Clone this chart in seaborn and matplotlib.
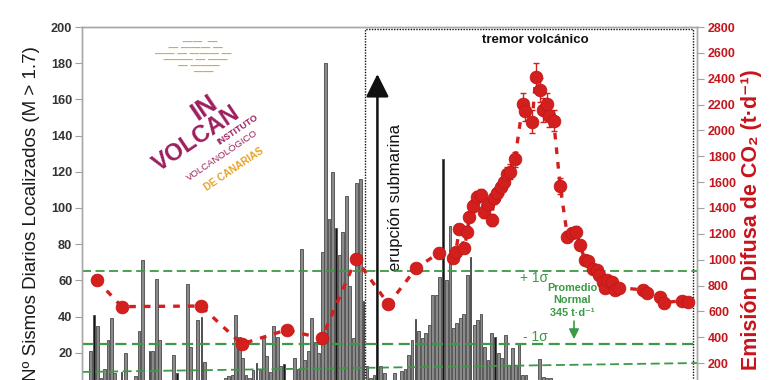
import numpy as np
import pandas as pd
import matplotlib
matplotlib.use("Agg")
import matplotlib.pyplot as plt
import seaborn as sns

# ---------------- data ----------------
bar_days = [2, 3, 4, 5, 6, 7, 8, 9, 11, 12, 15, 16, 17, 19, 20, 21, 22, 26, 27, 30, 31, 33, 34, 35,
            41, 42, 43, 44, 45, 46, 47, 48, 49, 50, 51, 52, 53, 54, 55, 56, 57, 58, 61, 62, 63, 64,
            65, 66, 67, 68, 69, 70, 71, 72, 73, 74, 75, 76, 77, 78, 79, 80, 81, 82, 83, 84, 86, 87,
            90, 92, 93, 94, 95, 96, 97, 98, 99, 100, 101, 102, 103, 104, 105, 106, 107, 108, 109,
            110, 111, 112, 113, 114, 115, 116, 117, 118, 119, 120, 121, 122, 123, 124, 125, 126,
            127, 128, 132, 133, 134, 135]
bar_counts = [21, 41, 35, 6, 11, 27, 39, 9, 9.5, 20, 7, 32, 71, 21, 21, 60.6, 27, 19, 9, 58, 23, 38, 40, 15,
              6, 7, 7.7, 40.8, 28.8, 17, 7.7, 6, 10.5, 14.5, 10.5, 28, 18, 9.5, 34.7, 29, 12.7, 13.7, 17, 11, 77.5, 16,
              21, 39, 26, 20, 75.6, 180, 94, 119.7, 88.7, 73.8, 86.7, 106.5, 56.7, 28, 114, 116, 48.5, 12.7, 6, 7.7, 12.7, 9,
              9, 10, 11, 19, 27, 38.7, 32, 28, 31, 35.6, 52, 52, 62, 127, 60, 90, 33.8, 36.5, 39,
              41.7, 62.8, 72.9, 35.6, 38, 41.7, 23.3, 16, 31, 29, 20, 17, 30, 13, 22.4, 13, 25,
              7.7, 7.7, 16.5, 6.8, 6, 6]
dark_days = [3, 11, 19, 27, 34, 50, 58, 73, 81, 96, 104, 112, 119]

co2_days = [3.75, 11.0, 33.9, 45.7, 58.7, 68.9, 78.8, 88.2, 96.2, 102.9, 107.0, 107.7, 108.7, 110.2,
            111.0, 111.6, 112.8, 113.9, 115.0, 115.9, 117.1, 118.1, 118.7, 119.7, 120.7, 121.6, 122.6,
            123.4, 124.8, 127.1, 127.7, 129.8, 130.8, 132.1, 133.0, 134.0, 134.8, 136.0, 137.9, 140.0,
            141.2, 142.5, 143.6, 145.1, 146.0, 147.3, 148.5, 149.2, 150.2, 150.9, 151.4, 152.8, 153.8,
            155.0, 162.0, 162.9, 166.8, 168.0, 173.1, 175.0]
co2_values = [843, 637, 642, 348, 457, 392, 1006, 655, 934, 1055, 1011, 1063, 1236, 1089,
              1217, 1329, 1416, 1488, 1501, 1367, 1432, 1308, 1476, 1514, 1561, 1604, 1664,
              1682, 1777, 2205, 2154, 2068, 2412, 2314, 2159, 2205, 2113, 2076, 1571, 1179,
              1205, 1217, 1114, 998, 993, 926, 921, 882, 830, 779, 843, 830, 766,
              784, 766, 741, 714, 668, 683, 676]
co2_err = [40, 25, 25, 25, 25, 25, 35, 25, 30, 35, 35, 35, 40, 40,
           40, 40, 45, 45, 45, 45, 45, 45, 45, 50, 50, 50, 55,
           55, 60, 85, 80, 90, 110, 95, 90, 85, 85, 80, 60, 40,
           40, 40, 35, 30, 30, 30, 30, 30, 30, 30, 30, 30, 30,
           30, 30, 30, 30, 30, 30, 30]

left_ticks = [20, 40, 60, 80, 100, 120, 140, 160, 180, 200]
right_ticks = [200, 400, 600, 800, 1000, 1200, 1400, 1600, 1800, 2000, 2200, 2400, 2600, 2800]
sigma_plus = 915
normal_mean = 345
trend_start, trend_end = 132, 201
n_days = 178
tremor_start, tremor_end, tremor_top = 81.4, 176.3, 199
eruption_day, eruption_tip = 85, 174

# ---------------- style ----------------
sns.set_style("white")
plt.rcParams['font.family'] = ['Liberation Sans', 'DejaVu Sans']
NARROW = ['Liberation Sans Narrow', 'Liberation Sans', 'DejaVu Sans']
RED = '#d3201f'
GREEN = '#3a9a45'
MAG = '#9c1f5e'
ORG = '#e6a224'

fig = plt.figure(figsize=(7.7, 3.8), dpi=100)
ax = fig.add_axes([82 / 770, 1 - 389 / 380, 615 / 770, 362 / 380])
ax2 = ax.twinx()

# bars
df = pd.DataFrame({'day': bar_days, 'count': bar_counts})
df['kind'] = np.where(df['day'].isin(dark_days), 'dark', 'normal')
sns.barplot(data=df, x='day', y='count', hue='kind', hue_order=['normal', 'dark'],
            palette={'normal': '#8a8a8a', 'dark': '#151515'}, native_scale=True, dodge=False,
            width=0.8, edgecolor='#4a4a4a', linewidth=0.6, errorbar=None, legend=False, ax=ax)
for p in ax.patches:
    fc = p.get_facecolor()
    if fc[0] < 0.2:
        c = p.get_x() + p.get_width() / 2
        p.set_width(0.4)
        p.set_x(c - 0.2)

ax.set_xlim(-0.5, n_days - 0.5)
ax.set_ylim(0, 200)
ax.set_yticks(left_ticks)
ax.set_xticks([])
ax.set_xlabel('')
ax.set_ylabel('')
for lab in ax.get_yticklabels():
    lab.set_family(NARROW)
    lab.set_fontweight('bold')
    lab.set_fontsize(9.2)
    lab.set_color('#333333')
ax.tick_params(axis='y', left=True, length=5, width=0.8, color='#a0a0a0', pad=2)

# tremor box + eruption arrow
ax.plot([tremor_start, tremor_start, tremor_end, tremor_end], [0, tremor_top, tremor_top, 0],
        ls=(0, (1, 1)), color='#111111', lw=1.0, zorder=3)
ax.annotate('', xy=(eruption_day, eruption_tip), xytext=(eruption_day, -5),
            arrowprops=dict(arrowstyle='-|>,head_length=0.7,head_width=0.35', color='#111111',
                            lw=1.8, mutation_scale=20, shrinkA=0, shrinkB=0), zorder=3)
ax.text(90.1, 106, 'erupción submarina', rotation=90, ha='center', va='center',
        fontsize=12, color='#111111')
ax.text(130.6, 193, 'tremor volcánico', ha='center', va='center', fontsize=9.5,
        fontweight='bold', color='#111111')

# CO2 on right axis
ax2.axhline(sigma_plus, color=GREEN, ls=(0, (5, 2.5)), lw=1.3, zorder=1)
ax2.axhline(normal_mean, color=GREEN, ls=(0, (5, 2.5)), lw=1.6, zorder=1)
ax2.plot([-0.5, n_days - 0.5], [trend_start, trend_end], color=GREEN, ls=(0, (5, 2.5)), lw=1.3, zorder=1)

co2 = pd.DataFrame({'day': co2_days, 'co2': co2_values, 'err': co2_err})
sns.lineplot(data=co2, x='day', y='co2', ax=ax2, color=RED, lw=2.4, estimator=None,
             linestyle=(0, (2.0, 2.4)), zorder=3)
ax2.errorbar(co2_days, co2_values, yerr=co2_err, fmt='none', ecolor=RED, elinewidth=1.0,
             capsize=2.5, capthick=1.0, zorder=3)
sns.scatterplot(data=co2, x='day', y='co2', ax=ax2, s=85, color=RED, edgecolor='#c01515',
                linewidth=0.5, zorder=4, legend=False)
ax2.set_ylim(0, 2800)
ax2.set_yticks(right_ticks)
ax2.set_xlim(-0.5, n_days - 0.5)
ax2.set_ylabel('')
ax2.set_xlabel('')
for lab in ax2.get_yticklabels():
    lab.set_family(NARROW)
    lab.set_fontweight('bold')
    lab.set_fontsize(9)
    lab.set_color('#c4161c')
ax2.tick_params(axis='y', right=True, length=5, width=0.8, color='#a0a0a0', pad=3)

for a in (ax, ax2):
    for s in a.spines.values():
        s.set_color('#a8a8a8')
        s.set_linewidth(1.0)
    a.spines['bottom'].set_visible(False)

# green annotations
ax.text(130.2, 61.2, '+ 1σ', ha='center', va='center', fontsize=10, color=GREEN)
ax.text(130.6, 28.5, '- 1σ', ha='center', va='center', fontsize=10, color=GREEN)
ax.text(141.4, 49, 'Promedio\nNormal\n345 t·d⁻¹', ha='center', va='center', fontsize=7.8,
        fontweight='bold', color=GREEN, family=NARROW, linespacing=1.3, zorder=6)
ax.annotate('', xy=(141.9, 27.5), xytext=(141.9, 37.5),
            arrowprops=dict(arrowstyle='-|>,head_length=0.5,head_width=0.25', color=GREEN,
                            lw=1.2, mutation_scale=12, shrinkA=0, shrinkB=0))

# axis titles
fig.text(32 / 770, 1 - 214 / 380, 'Nº Sismos Diarios Localizados (M > 1.7)', rotation=90,
         ha='center', va='center', fontsize=13.5, color='#1a1a1a')
fig.text(751 / 770, 1 - 220 / 380, 'Emisión Difusa de CO₂ (t·d⁻¹)', rotation=90,
         ha='center', va='center', fontsize=15.5, fontweight='bold', color='#c8141c',
         family=['Liberation Sans', 'DejaVu Sans'])

# logo (approximation)
def fx(px):
    return (px - 82) / 615
def fy(py):
    return (389 - py) / 362

ax.text(fx(193), fy(57), '     ——  —\n  — ——— —\n—— — ——— —\n  ——— — ——\n    — ———\n        ——',
        transform=ax.transAxes, ha='center', va='center', fontsize=7, color=ORG,
        linespacing=0.5, fontweight='bold')
ax.text(fx(204), fy(108), 'IN', transform=ax.transAxes, ha='center', va='center', fontsize=19,
        color=MAG, fontweight='bold', rotation=34)
ax.text(fx(197), fy(139), 'VOLCAN', transform=ax.transAxes, ha='center', va='center', fontsize=17,
        color=MAG, fontweight='bold', rotation=34)
ax.text(fx(238), fy(130), 'INSTITUTO', transform=ax.transAxes, ha='center', va='center', fontsize=6.5,
        color=MAG, fontweight='bold', rotation=34)
ax.text(fx(222), fy(155), 'VOLCANOLÓGICO', transform=ax.transAxes, ha='center', va='center',
        fontsize=6.8, color=MAG, rotation=34)
ax.text(fx(234), fy(169), 'DE CANARIAS', transform=ax.transAxes, ha='center', va='center',
        fontsize=7.2, color=ORG, fontweight='bold', rotation=34)

fig.savefig('out.png', dpi=100)
